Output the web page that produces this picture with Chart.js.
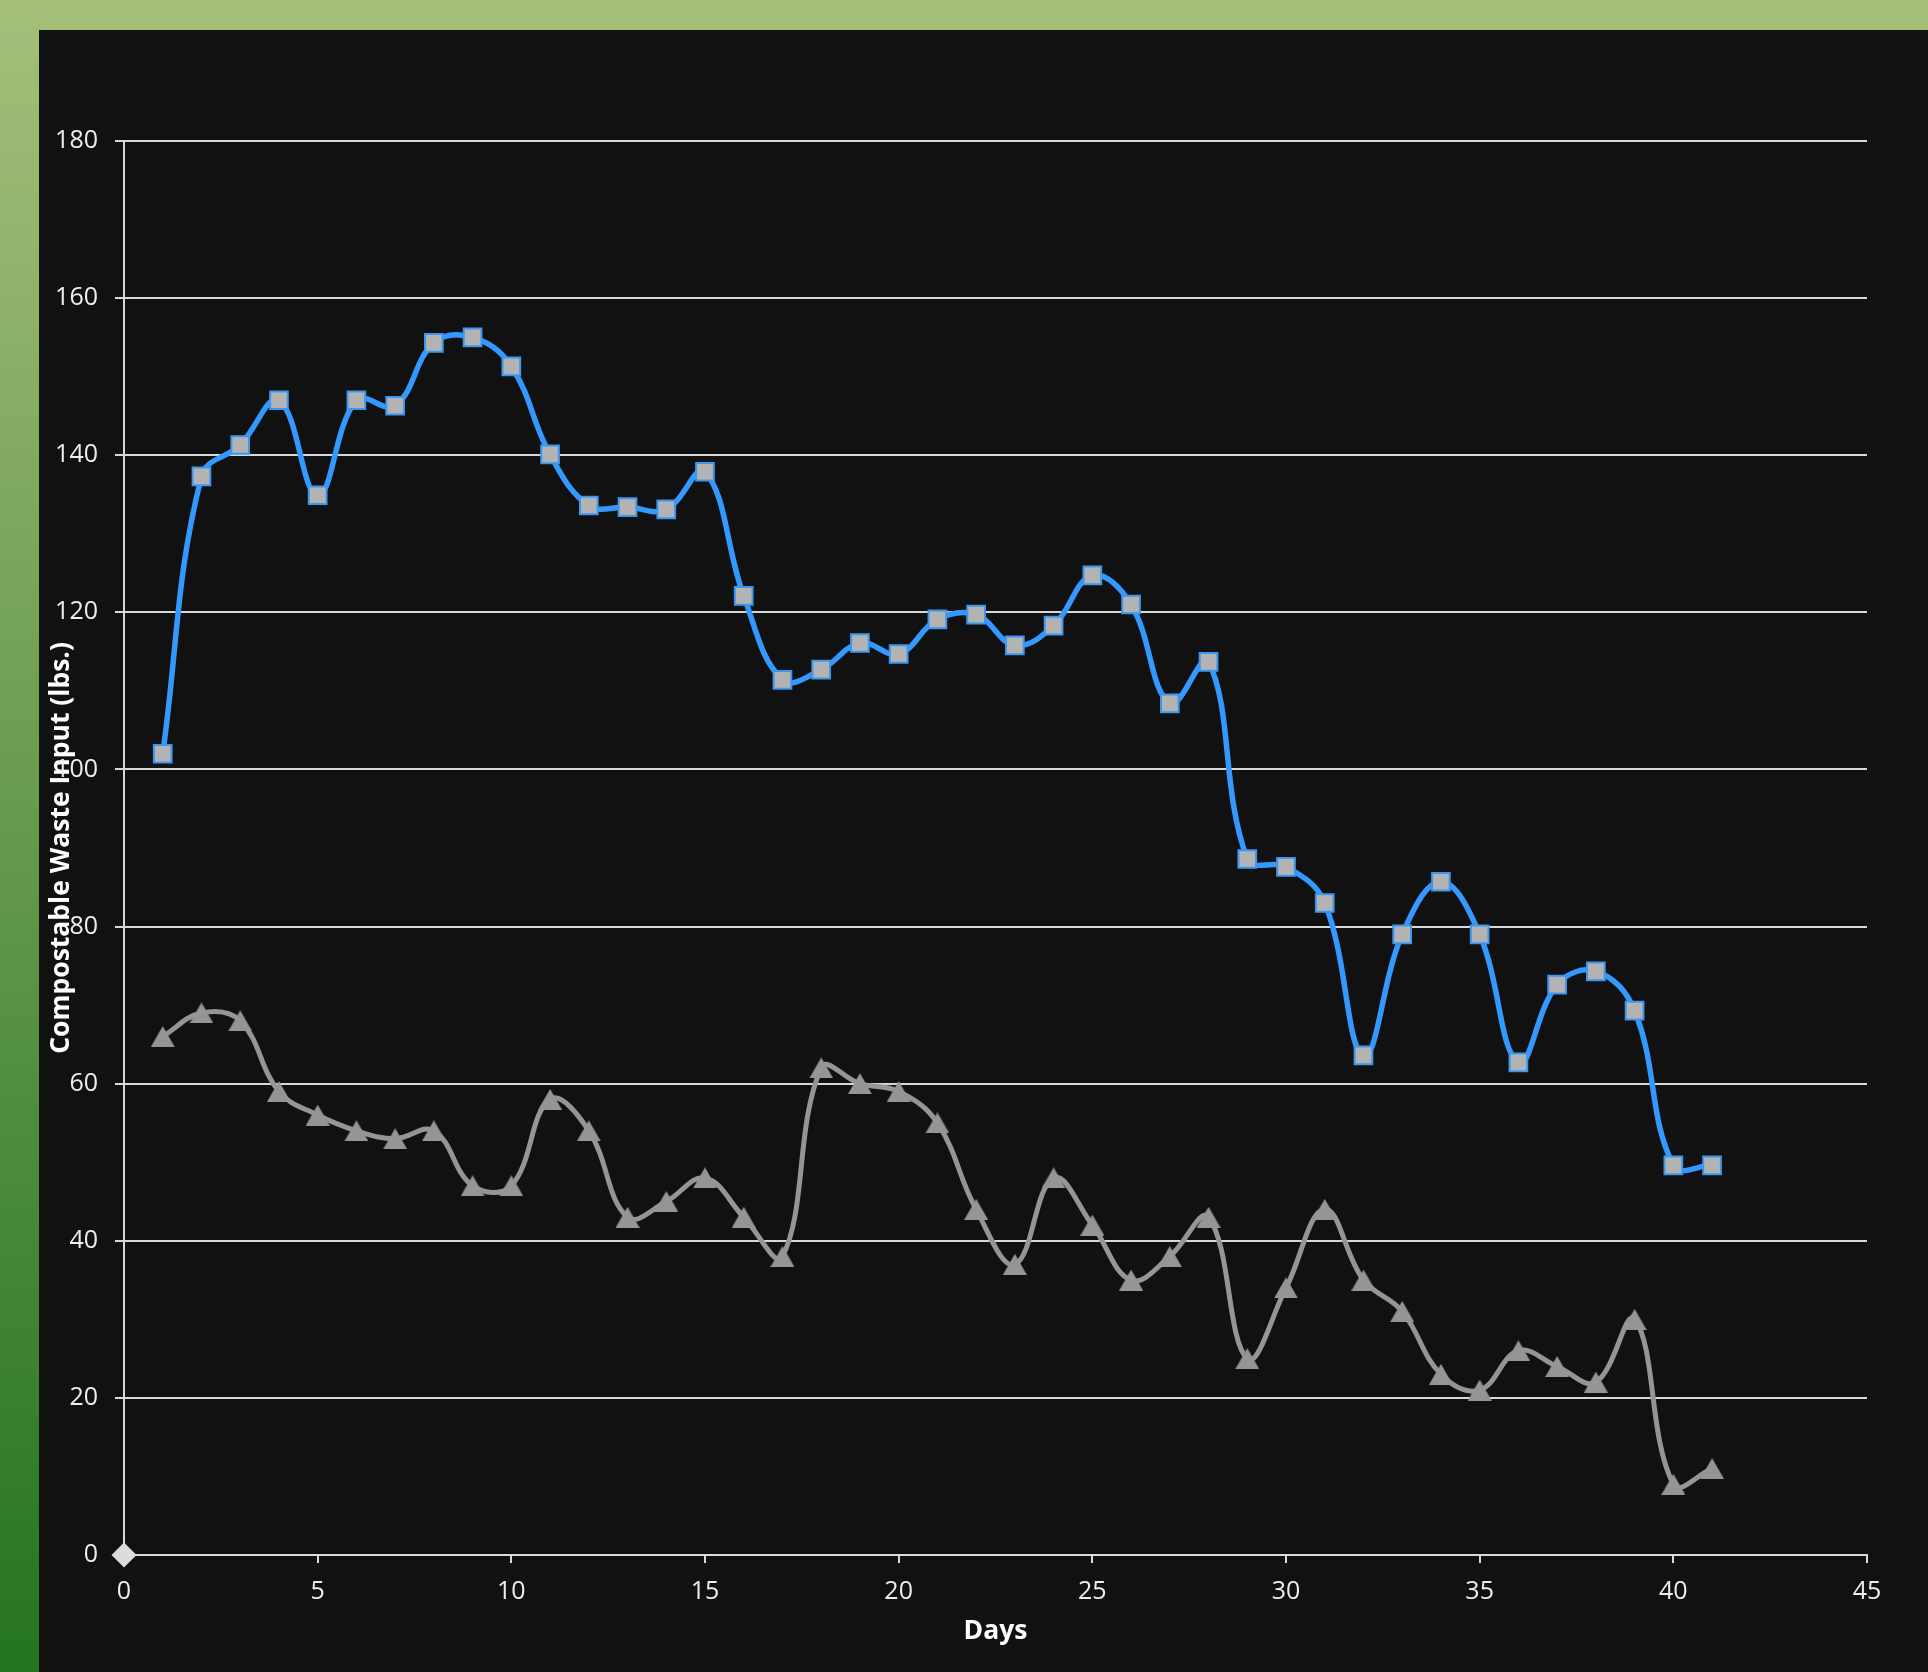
<!DOCTYPE html>
<html>
<head>
<meta charset="utf-8">
<script src="https://cdn.jsdelivr.net/npm/chart.js@4"></script>
<style>
  html, body { margin: 0; padding: 0; }
  body {
    width: 1928px; height: 1672px; overflow: hidden; position: relative;
    background: linear-gradient(to bottom, #a5bf79 0%, #247420 100%);
  }
  #panel { position: absolute; left: 39px; top: 30px; right: 0; bottom: 0; background: #111111; }
  #wasteChart { position: absolute; left: 0; top: 0; }
</style>
</head>
<body>
<div id="panel"></div>
<canvas id="wasteChart" width="1928" height="1672"></canvas>
<script>
// days of the trial
const DAYS = [1,2,3,4,5,6,7,8,9,10,11,12,13,14,15,16,17,18,19,20,
              21,22,23,24,25,26,27,28,29,30,31,32,33,34,35,36,37,38,39,40,41];
// upper series (blue, square markers)
const SERIES_A = [102.0,137.3,141.3,147.0,134.9,147.0,146.3,154.3,155.0,151.3,
                  140.1,133.6,133.4,133.1,137.9,122.1,111.4,112.7,116.1,114.7,
                  119.1,119.7,115.8,118.3,124.7,121.0,108.4,113.7,88.6,87.6,
                  83.0,63.6,79.0,85.7,79.0,62.7,72.6,74.3,69.3,49.6,49.6];
// lower series (gray, triangle markers)
const SERIES_B = [66,69,68,59,56,54,53,54,47,47,58,54,43,45,48,43,38,62,60,59,
                  55,44,37,48,42,35,38,43,25,34,44,35,31,23,21,26,24,22,30,9,11];
// single origin point
const ORIGIN_X = [0];
const ORIGIN_Y = [0];
const X_TICKS = [0,5,10,15,20,25,30,35,40,45];
const Y_TICKS = [0,20,40,60,80,100,120,140,160,180];

const FONT = '"Open Sans", "Noto Sans", sans-serif';

function triangleMarker(w, h, color) {
  const c = document.createElement('canvas');
  c.width = w; c.height = h;
  const g = c.getContext('2d');
  g.fillStyle = color;
  g.beginPath();
  g.moveTo(w / 2, 0);
  g.lineTo(w, h);
  g.lineTo(0, h);
  g.closePath();
  g.fill();
  return c;
}

const pairs = (xs, ys) => xs.map((x, i) => ({ x, y: ys[i] }));

const ctx = document.getElementById('wasteChart').getContext('2d');
new Chart(ctx, {
  type: 'line',
  data: {
    datasets: [
      {
        data: pairs(ORIGIN_X, ORIGIN_Y),
        showLine: false,
        pointStyle: 'rectRot',
        pointRadius: 12.5,
        pointBackgroundColor: '#dcdcdc',
        pointBorderColor: '#dcdcdc',
        pointBorderWidth: 0,
        clip: false
      },
      {
        data: pairs(DAYS, SERIES_A),
        borderColor: '#3399ff',
        borderWidth: 5.5,
        tension: 0.4,
        pointStyle: 'rect',
        pointRadius: 12.5,
        pointBackgroundColor: '#b3b3b3',
        pointBorderColor: '#3a98f2',
        pointBorderWidth: 2,
        clip: false
      },
      {
        data: pairs(DAYS, SERIES_B),
        borderColor: '#959595',
        borderWidth: 5,
        tension: 0.4,
        pointStyle: triangleMarker(24, 21, '#959595'),
        pointRadius: 11,
        clip: false
      }
    ]
  },
  options: {
    responsive: false,
    animation: false,
    events: [],
    layout: { padding: { left: 47, top: 141, right: 61, bottom: 0 } },
    plugins: { legend: { display: false }, tooltip: { enabled: false } },
    scales: {
      x: {
        type: 'linear',
        min: 0, max: 45,
        afterFit: s => { s.height = 117; },
        afterBuildTicks: s => { s.ticks = X_TICKS.map(v => ({ value: v })); },
        grid: { drawOnChartArea: false, drawTicks: true, tickLength: 8, color: '#d8d8d8', lineWidth: 2 },
        border: { display: true, color: '#d8d8d8', width: 2 },
        ticks: { color: '#eeeeee', padding: 14, font: { family: FONT, size: 25, lineHeight: 1.2 } },
        title: {
          display: true, text: 'Days', color: '#ffffff',
          padding: { top: 0, bottom: 25 },
          font: { family: FONT, size: 26.5, weight: 'bold', lineHeight: 1.2 }
        }
      },
      y: {
        type: 'linear',
        min: 0, max: 180,
        afterFit: s => { s.width = 77; },
        afterBuildTicks: s => { s.ticks = Y_TICKS.map(v => ({ value: v })); },
        grid: { drawOnChartArea: true, drawTicks: true, tickLength: 9, color: '#d8d8d8', lineWidth: 2 },
        border: { display: true, color: '#d8d8d8', width: 2 },
        ticks: { color: '#eeeeee', padding: 17, font: { family: FONT, size: 25, lineHeight: 1.2 } },
        title: {
          display: true, text: 'Compostable Waste Input (lbs.)', color: '#ffffff',
          padding: { top: -1, bottom: 0 },
          font: { family: FONT, size: 26.5, weight: 'bold', lineHeight: 1.2 }
        }
      }
    }
  }
});
</script>
</body>
</html>
